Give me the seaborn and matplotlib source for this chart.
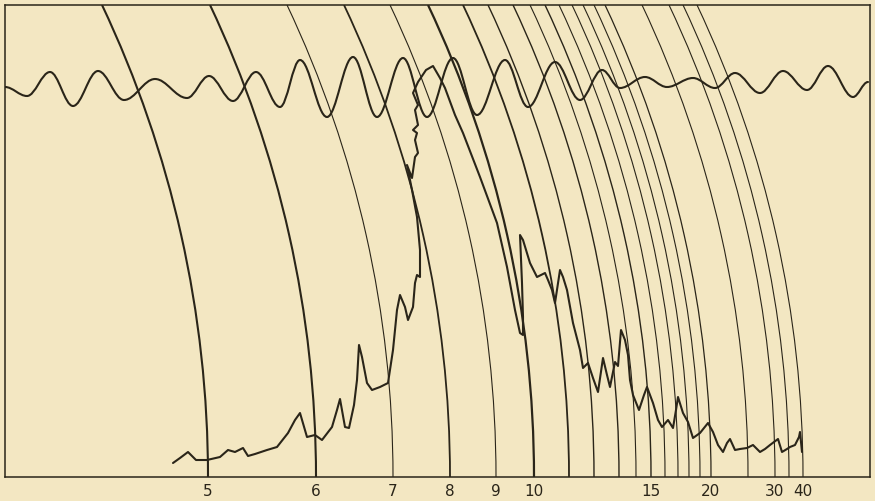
import numpy as np
import pandas as pd
import matplotlib
matplotlib.use("Agg")
import matplotlib.pyplot as plt
from matplotlib.patches import Arc, PathPatch
from matplotlib.path import Path
import seaborn as sns

# Chart units: horizontal chart position and pen height above the base line.
# Wavelength scale (microns) marked under the base line.
tick_pos = [208, 316, 393, 450, 496, 534, 651, 711, 775, 803]
tick_labels = ["5", "6", "7", "8", "9", "10", "15", "20", "30", "40"]

# Foot positions of the calibration arcs drawn by the pen arm.
arc_pos = [208, 316, 393, 450, 496, 534, 569, 594, 619, 636,
           651, 665, 678, 689, 700, 711, 748, 775, 789, 803]
arc_weight = [1.5, 1.5, 0.8, 1.3, 0.8, 1.6, 1.3, 1.0, 1.0, 0.8,
              1.0, 0.8, 0.8, 0.8, 0.8, 0.9, 0.8, 0.8, 0.8, 0.8]
arm_radius = 1104

# Timing trace: successive turning points.
timer_x = [5, 27, 50, 73, 98, 124, 155, 187, 209, 233, 256, 280, 300, 327,
           353, 377, 403, 427, 453, 477, 505, 528, 555, 580, 602, 620, 645,
           667, 693, 715, 735, 760, 783, 807, 828, 853, 868]
timer_h = [390, 381, 405, 371, 406, 377, 398, 379, 401, 376, 405, 370, 417,
           360, 420, 360, 419, 360, 419, 362, 417, 370, 415, 377, 407, 389,
           400, 390, 399, 389, 404, 384, 406, 387, 411, 380, 395]

# Recorded spectrum trace.
spec_x = [173, 180, 188, 193, 196, 207, 220, 228, 235, 243, 248, 255, 267,
          277, 288, 295, 300, 307, 315, 322, 332, 337, 340, 345, 349, 354,
          357, 359, 362, 367, 372, 380, 388, 393, 397, 400, 405, 408, 413,
          415, 417, 420, 420, 417, 412, 407, 412, 415, 418, 415, 417, 413,
          418, 415, 418, 413, 418, 426, 433, 440, 445, 455, 463, 480, 497,
          507, 515, 520, 523, 523, 522, 520, 523, 530, 537, 545, 548, 552,
          555, 558, 560, 563, 567, 573, 580, 583, 588, 593, 598, 603, 607,
          610, 615, 618, 621, 625, 628, 630, 633, 639, 644, 647, 650, 653,
          658, 662, 668, 673, 676, 678, 683, 688, 693, 700, 708, 713, 718,
          723, 727, 730, 735, 740, 747, 753, 760, 765, 770, 778, 782, 787,
          790, 795, 799, 800, 802]
spec_h = [14, 19, 25, 20, 17, 17, 20, 27, 25, 29, 21, 23, 27,
          30, 44, 57, 64, 40, 42, 37, 50, 67, 78, 50, 49, 72,
          97, 132, 120, 94, 87, 90, 94, 127, 167, 182, 170, 157, 170,
          194, 202, 200, 227, 260, 287, 312, 299, 320, 324, 337, 344, 347,
          352, 367, 372, 384, 395, 407, 411, 399, 389, 362, 344, 300, 254,
          210, 167, 144, 142, 160, 194, 242, 237, 214, 200, 204, 197, 187,
          174, 194, 207, 200, 187, 154, 127, 109, 114, 99, 85, 119, 102,
          90, 115, 111, 147, 137, 122, 97, 82, 67, 82, 90, 82, 74,
          57, 50, 57, 49, 67, 80, 64, 55, 39, 44, 54, 45, 32,
          25, 34, 38, 27, 28, 29, 32, 25, 28, 32, 38, 25, 28,
          30, 32, 40, 45, 25]

paper = "#f3e7c2"
ink = "#2a2519"

sns.set_theme(style="white", rc={
    "figure.facecolor": paper,
    "axes.facecolor": paper,
    "savefig.facecolor": paper,
    "axes.edgecolor": ink,
})
plt.rcParams["font.family"] = ["DejaVu Sans"]

fig = plt.figure(figsize=(8.75, 5.01), dpi=100)
ax = fig.add_axes([5 / 875, 24 / 501, 865 / 875, 472 / 501])
x_lo, x_hi, h_top = 5, 870, 472
ax.set_xlim(x_lo, x_hi)
ax.set_ylim(0, h_top)

# Calibration arcs, all swung about the same arm length.
sweep = np.degrees(np.arcsin(h_top / arm_radius))
for pos, w in zip(arc_pos, arc_weight):
    ax.add_patch(Arc((pos - arm_radius, 0), 2 * arm_radius, 2 * arm_radius,
                     theta1=0, theta2=sweep, color=ink, lw=w, zorder=2))

# Timing trace, smooth half-waves between turning points.
k = 0.364
verts = [(timer_x[0], timer_h[0])]
codes = [Path.MOVETO]
for (x0, y0), (x1, y1) in zip(zip(timer_x[:-1], timer_h[:-1]),
                              zip(timer_x[1:], timer_h[1:])):
    dx = x1 - x0
    verts += [(x0 + k * dx, y0), (x1 - k * dx, y1), (x1, y1)]
    codes += [Path.CURVE4] * 3
ax.add_patch(PathPatch(Path(verts, codes), fill=False, edgecolor=ink,
                       lw=1.5, zorder=3, capstyle="round"))

# Spectrum trace.
spec = pd.DataFrame({"x": spec_x, "h": spec_h})
sns.lineplot(data=spec, x="x", y="h", sort=False, estimator=None,
             color=ink, lw=1.5, ax=ax, zorder=4)

ax.set_xlabel("")
ax.set_ylabel("")
ax.set_yticks([])
ax.set_xticks(tick_pos)
ax.set_xticklabels(tick_labels)
ax.tick_params(axis="x", length=0, pad=5, labelsize=11, labelcolor=ink)
for s in ax.spines.values():
    s.set_visible(True)
    s.set_color(ink)
    s.set_linewidth(1.1)

fig.savefig("out.png", dpi=100, facecolor=paper)
